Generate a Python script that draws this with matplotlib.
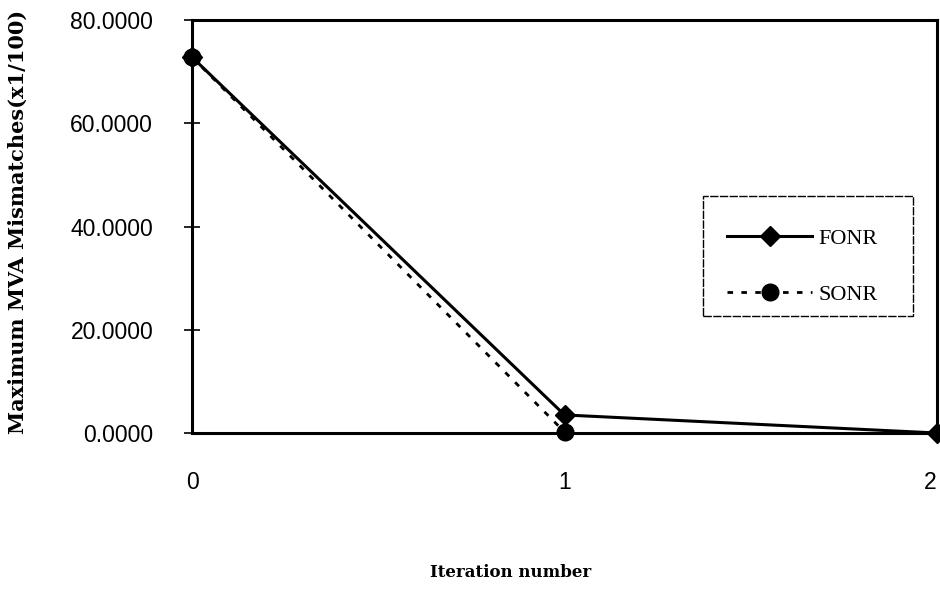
import matplotlib.pyplot as plt
from matplotlib.patches import Rectangle

iterations = [0, 1, 2]
fonr = [72.8, 3.5, 0.0]
sonr_iter = [0, 1]
sonr = [72.8, 0.2]

y_ticks = [0, 20, 40, 60, 80]
x_ticks = [0, 1, 2]


def main():
    fig = plt.figure(figsize=(9.4, 6.15), dpi=100)
    ax = fig.add_axes([0.2043, 0.2959, 0.7925, 0.6716])

    ax.plot(iterations, fonr, color="black", linewidth=2.2,
            marker="D", markersize=10, label="FONR", clip_on=False, zorder=3)
    ax.plot(sonr_iter, sonr, color="black", linewidth=2.0,
            linestyle=(0, (2, 3)), marker="o", markersize=12,
            label="SONR", clip_on=False, zorder=3)

    ax.set_xlim(0, 2)
    ax.set_ylim(0, 80)

    for side in ["left", "right", "top", "bottom"]:
        ax.spines[side].set_linewidth(2.2)

    ax.set_yticks(y_ticks)
    ax.set_yticklabels([f"{v:.4f}" for v in y_ticks],
                       fontfamily="Liberation Sans", fontsize=16.5)
    ax.set_xticks(x_ticks)
    xlabels = ax.set_xticklabels([str(v) for v in x_ticks],
                                 fontfamily="Liberation Sans", fontsize=16.5)
    xlabels[-1].set_horizontalalignment("right")
    ax.tick_params(axis="y", direction="inout", length=12, width=1.2, pad=22)
    ax.tick_params(axis="x", length=0, pad=27)

    ax.set_ylabel("Maximum MVA Mismatches(x1/100)", fontfamily="DejaVu Serif",
                  fontweight="bold", fontsize=15)
    ax.yaxis.set_label_coords(-0.220, 0.511)
    ax.set_xlabel("Iteration number", fontfamily="DejaVu Serif",
                  fontweight="bold", fontsize=12)
    ax.xaxis.set_label_coords(0.428, -0.316)

    # legend box drawn separately so the entries sit like in the original
    ax.add_patch(Rectangle((0.686, 0.283), 0.282, 0.291, transform=ax.transAxes,
                           fill=False, edgecolor="black", linewidth=1.0,
                           linestyle=(0, (6, 1)), zorder=4))
    ax.legend(loc="upper left", bbox_to_anchor=(0.680, 0.566),
              prop={"family": "Liberation Serif", "size": 16},
              handlelength=3.8, labelspacing=1.6, borderpad=1.3,
              borderaxespad=0, frameon=False, handletextpad=0.3)

    fig.savefig("out.png", dpi=100)


if __name__ == "__main__":
    main()
